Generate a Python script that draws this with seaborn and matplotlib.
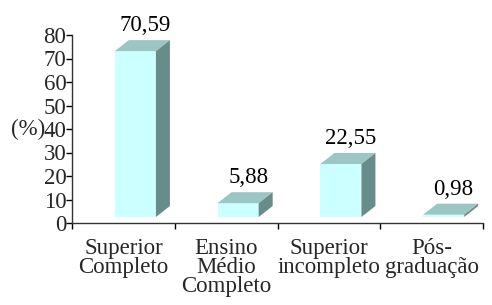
import matplotlib
matplotlib.use("Agg")
import matplotlib.pyplot as plt
import seaborn as sns
import pandas as pd
from matplotlib.patches import Polygon

categories = ["Superior\nCompleto", "Ensino\nMédio\nCompleto", "Superior\nincompleto", "Pós-\ngraduação"]
values = [70.59, 5.88, 22.55, 0.98]
yticks = [0, 10, 20, 30, 40, 50, 60, 70, 80]

sns.set_theme(style="white")
plt.rcParams["font.family"] = ["Liberation Serif", "DejaVu Serif"]

FS = 16.5

fig = plt.figure(figsize=(4.92, 3.05), dpi=100)
ax = fig.add_axes([72/492, 1-223/305, (483-72)/492, (223-35)/305])

df = pd.DataFrame({"cat": categories, "val": values})
sns.barplot(data=df, x="cat", y="val", ax=ax, color="#CCFFFF", width=0.4,
            saturation=1, edgecolor="none", linewidth=0)

ax.set_xlim(-0.5, 3.5)
ax.set_ylim(0, 80)

# pixel -> data unit conversions
px_x = (3.5 - (-0.5)) / (483 - 72)
px_y = 80 / (223 - 35)
shift_x = 12 * px_x   # front face offset right
shift_y = 6 * px_y    # front face floor raised
dx = 14 * px_x        # depth
dy = 11 * px_y

top_c = "#9CC6C4"
side_c = "#688C89"
for p, v in zip(ax.patches, values):
    p.set_x(p.get_x() + shift_x)
    p.set_y(shift_y)
    x0 = p.get_x()
    x1 = x0 + p.get_width()
    y0 = shift_y
    y1 = shift_y + p.get_height()
    top = Polygon([(x0, y1), (x1, y1), (x1 + dx, y1 + dy), (x0 + dx, y1 + dy)],
                  closed=True, facecolor=top_c, edgecolor="none", clip_on=False)
    side = Polygon([(x1, y0), (x1 + dx, y0 + dy), (x1 + dx, y1 + dy), (x1, y1)],
                   closed=True, facecolor=side_c, edgecolor="none", clip_on=False)
    ax.add_patch(top)
    ax.add_patch(side)
    ax.text((x0 + x1) / 2 + dx / 2 + 3 * px_x, y1 + dy + 4 * px_y,
            f"{v:.2f}".replace(".", ","), ha="center", va="bottom",
            fontsize=FS, color="black", clip_on=False)

ax.set_yticks(yticks)
ax.set_yticklabels([str(t) for t in yticks], fontsize=FS)
ax.set_xticks([-0.5, 0.5, 1.5, 2.5, 3.5], minor=False)
ax.set_xticklabels([])
ax.set_xticks([0, 1, 2, 3], minor=True)
ax.set_xticklabels(categories, minor=True, fontsize=FS, linespacing=0.86)
ax.tick_params(axis="x", which="minor", length=0, pad=11)
ax.tick_params(axis="x", which="major", direction="out", length=4, width=1, color="black", bottom=True)
ax.tick_params(axis="y", direction="out", length=4, width=1, color="black", left=True, pad=0)

ax.set_xlabel("")
ax.set_ylabel("(%)", rotation=0, fontsize=FS, va="center", ha="right", labelpad=0)
ax.yaxis.set_label_coords(-0.065, 0.5)

for s in ["top", "right"]:
    ax.spines[s].set_visible(False)
for s in ["left", "bottom"]:
    ax.spines[s].set_visible(True)
    ax.spines[s].set_color("#333333")
    ax.spines[s].set_linewidth(1)

fig.savefig("out.png", dpi=100)
